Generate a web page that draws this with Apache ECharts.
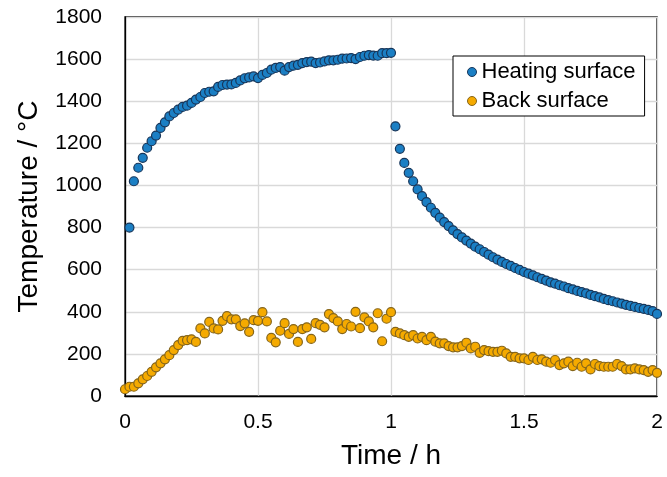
<!DOCTYPE html>
<html>
<head>
<meta charset="utf-8">
<script src="https://cdn.jsdelivr.net/npm/echarts@6/dist/echarts.min.js"></script>
<style>
  html, body { margin: 0; padding: 0; background: #fff; }
  #chart { width: 667px; height: 477px; }
</style>
</head>
<body>
<div id="chart"></div>
<script>
"use strict";

// one reading per minute, time axis in hours
const step_h = 1 / 60;

// heating surface, t = 1 min .. 60 min (heating on)
const heating_on = [
    800, 1020, 1084, 1131, 1179, 1210, 1237, 1273, 1300, 1328,
    1344, 1360, 1373, 1379, 1392, 1408, 1420, 1439, 1445, 1447,
    1468, 1477, 1479, 1480, 1487, 1499, 1509, 1513, 1518, 1510,
    1525, 1534, 1550, 1558, 1562, 1545, 1562, 1569, 1573, 1581,
    1586, 1588, 1581, 1584, 1589, 1594, 1594, 1597, 1602, 1603,
    1605, 1600, 1610, 1616, 1619, 1617, 1616, 1628, 1628, 1630
];

// heating surface, t = 61 min .. 120 min (cooling)
const heating_off = [
    1281, 1174, 1107, 1060, 1020, 981, 949, 921, 894, 870,
    847, 826, 807, 787, 769, 753, 738, 724, 709, 697,
    684, 671, 659, 648, 637, 627, 618, 608, 599, 589,
    581, 573, 564, 556, 548, 540, 534, 526, 520, 512,
    506, 499, 493, 487, 480, 474, 468, 461, 455, 450,
    444, 439, 433, 428, 423, 418, 414, 409, 403, 390
];

// back surface, t = 0 min .. 60 min
const back_on = [
    32, 44, 44, 60, 79, 95, 115, 136, 155, 174,
    194, 218, 242, 262, 265, 269, 257, 321, 297, 352,
    321, 316, 357, 379, 364, 364, 332, 345, 305, 360,
    357, 398, 354, 276, 255, 310, 346, 295, 318, 257,
    318, 326, 271, 346, 338, 326, 389, 370, 354, 318,
    342, 330, 400, 322, 373, 354, 326, 393, 260, 367,
    398
];

// back surface, t = 61 min .. 120 min
const back_off = [
    305, 297, 289, 281, 289, 273, 281, 265, 281, 258,
    250, 250, 237, 231, 231, 237, 253, 226, 234, 205,
    218, 213, 210, 210, 215, 202, 186, 186, 179, 179,
    171, 186, 171, 174, 163, 158, 171, 147, 155, 163,
    142, 158, 139, 155, 126, 152, 142, 139, 139, 139,
    152, 142, 126, 126, 131, 126, 123, 115, 123, 110
];

const x_ticks = [0, 0.5, 1, 1.5, 2];
const y_ticks = [0, 200, 400, 600, 800, 1000, 1200, 1400, 1600, 1800];

const heating_data = [],
      back_data = [];

heating_on.forEach((v, i) => heating_data.push([(i + 1) * step_h, v]));
heating_off.forEach((v, i) => heating_data.push([(i + 61) * step_h, v]));
back_on.forEach((v, i) => back_data.push([i * step_h, v]));
back_off.forEach((v, i) => back_data.push([(i + 61) * step_h, v]));

const font = 'Liberation Sans, Arial, sans-serif';

const chartDom = document.getElementById('chart');
const myChart = echarts.init(chartDom, null, { renderer: 'canvas' });

const option = {
    animation: false,
    backgroundColor: '#fff',
    textStyle: { fontFamily: font },
    grid: {
        left: 125,
        right: 10,
        top: 17,
        bottom: 81,
        show: true,
        borderColor: '#000',
        borderWidth: 1.3,
        containLabel: false
    },
    legend: {
        orient: 'vertical',
        left: 453,
        top: 56,
        padding: [5, 9, 4, 14],
        backgroundColor: '#fff',
        borderColor: '#000',
        borderWidth: 1,
        borderRadius: 0,
        icon: 'circle',
        itemWidth: 9,
        itemHeight: 9,
        itemGap: 7,
        itemStyle: { borderWidth: 1 },
        textStyle: {
            fontFamily: font,
            fontSize: 22,
            lineHeight: 21,
            color: '#000'
        },
        data: ['Heating surface', 'Back surface']
    },
    xAxis: {
        type: 'value',
        min: x_ticks[0],
        max: x_ticks[x_ticks.length - 1],
        interval: x_ticks[1] - x_ticks[0],
        name: 'Time / h',
        nameLocation: 'middle',
        nameGap: 46,
        nameTextStyle: { fontFamily: font, fontSize: 28, color: '#000' },
        axisLine: { show: true, lineStyle: { color: '#000', width: 1.3 } },
        axisTick: { show: false },
        axisLabel: { fontFamily: font, fontSize: 21, color: '#000', margin: 16 },
        splitLine: { show: true, lineStyle: { color: '#d9d9d9', width: 1.3 } }
    },
    yAxis: {
        type: 'value',
        min: y_ticks[0],
        max: y_ticks[y_ticks.length - 1],
        interval: y_ticks[1] - y_ticks[0],
        name: 'Temperature / °C',
        nameLocation: 'middle',
        nameGap: 82,
        nameTextStyle: { fontFamily: font, fontSize: 28, color: '#000' },
        axisLine: { show: true, lineStyle: { color: '#000', width: 1.3 } },
        axisTick: { show: false },
        axisLabel: {
            fontFamily: font,
            fontSize: 21,
            color: '#000',
            margin: 23,
            formatter: v => String(v)
        },
        splitLine: { show: true, lineStyle: { color: '#d9d9d9', width: 1.3 } }
    },
    series: [
        {
            name: 'Heating surface',
            type: 'scatter',
            symbol: 'circle',
            symbolSize: 9,
            itemStyle: { color: '#1b7fc4', borderColor: '#17365a', borderWidth: 1.2, opacity: 1 },
            data: heating_data
        },
        {
            name: 'Back surface',
            type: 'scatter',
            symbol: 'circle',
            symbolSize: 9,
            itemStyle: { color: '#f5aa00', borderColor: '#85651a', borderWidth: 1.2, opacity: 1 },
            data: back_data
        }
    ]
};

option && myChart.setOption(option);
</script>
</body>
</html>
